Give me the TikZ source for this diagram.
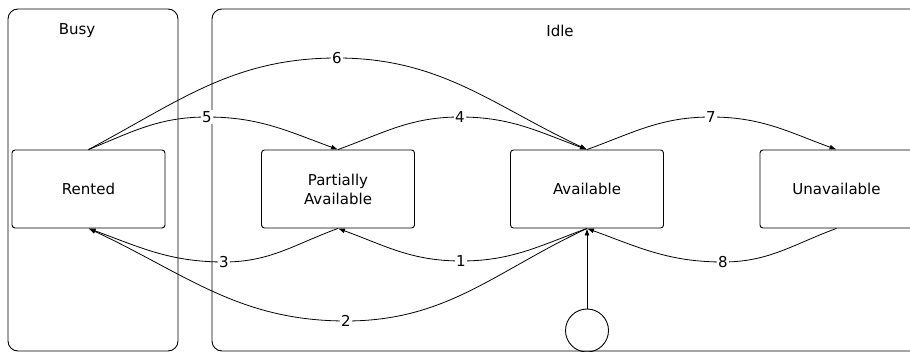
\documentclass[tikz,border=0pt]{standalone}
\usepackage{fontspec}
\setmainfont{DejaVu Sans}
\usetikzlibrary{arrows.meta}
\begin{document}
\begin{tikzpicture}[x=1pt,y=1pt,
  font=\fontsize{15}{19}\selectfont,
  container/.style={draw=black,line width=0.9pt,rounded corners=10pt},
  state/.style={draw=black,line width=0.9pt,rounded corners=3pt,minimum width=153pt,minimum height=78pt,align=center,inner sep=0pt},
  trans/.style={line width=0.8pt,-{Latex[length=7pt,width=5pt]}},
  lab/.style={fill=white,inner sep=1.5pt},
  initst/.style={draw=black,line width=0.9pt,circle,minimum size=43pt,inner sep=0pt}]
\useasboundingbox (0,0) rectangle (910,-352);
\draw[container] (8,-9) rectangle (178,-351);
\draw[container] (212,-9) rectangle (930,-351);
\node (busy) at (77,-31) {Busy};
\node (idle) at (560,-31) {Idle};
\node[state] (rented) at (88.5,-189) {Rented};
\node[state] (partial) at (338,-189) {Partially\\Available};
\node[state] (avail) at (587,-189) {Available};
\node[state] (unavail) at (836.5,-189) {Unavailable};
\node[initst] (init) at (587,-330.5) {};
\coordinate (c6) at (337,-58);
\coordinate (c5) at (207,-117);
\coordinate (c4) at (460,-117);
\coordinate (c7) at (711,-117);
\coordinate (c1) at (461,-261);
\coordinate (c3) at (224,-262);
\coordinate (c2) at (346,-321);
\coordinate (c8) at (723,-262);
\draw[trans] (rented.north) to[out=28,in=180] (c6) to[out=0,in=155] (avail.north);
\draw[trans] (rented.north) to[out=22,in=180] (c5) to[out=0,in=160] (partial.north);
\draw[trans] (partial.north) to[out=20,in=180] (c4) to[out=0,in=160] (avail.north);
\draw[trans] (avail.north) to[out=20,in=180] (c7) to[out=0,in=160] (unavail.north);
\draw[trans] (avail.south) to[out=200,in=0] (c1) to[out=180,in=-20] (partial.south);
\draw[trans] (partial.south) to[out=200,in=0] (c3) to[out=180,in=-20] (rented.south);
\draw[trans] (avail.south) to[out=205,in=0] (c2) to[out=180,in=-25] (rented.south);
\draw[trans] (unavail.south) to[out=200,in=0] (c8) to[out=180,in=-20] (avail.south);
\draw[trans] (init) -- (avail.south);
\node[lab] (l6) at (c6) {6};
\node[lab] (l5) at (c5) {5};
\node[lab] (l4) at (c4) {4};
\node[lab] (l7) at (c7) {7};
\node[lab] (l1) at (c1) {1};
\node[lab] (l3) at (c3) {3};
\node[lab] (l2) at (c2) {2};
\node[lab] (l8) at (c8) {8};
\end{tikzpicture}
\end{document}
